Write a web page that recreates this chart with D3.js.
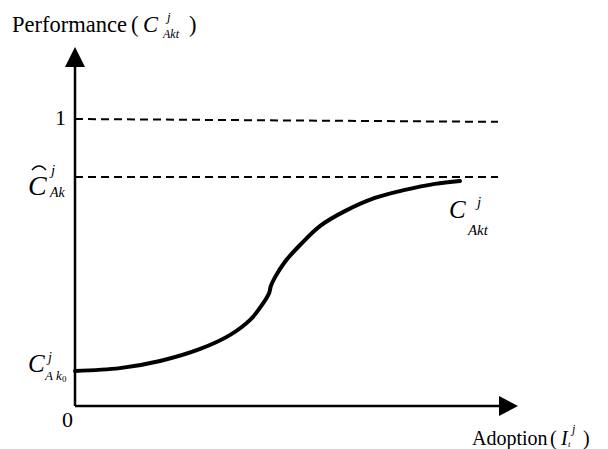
<!DOCTYPE html>
<html>
<head>
<meta charset="utf-8">
<script src="https://cdn.jsdelivr.net/npm/d3@7"></script>
<style>
  html, body { margin: 0; padding: 0; background: #fff; }
  svg { display: block; }
</style>
</head>
<body>
<div id="chart"></div>
<script>
// Adoption level (0..1) and resulting performance along the S-shaped curve
const adoption = [0, 0.106, 0.201, 0.296, 0.366, 0.414, 0.442, 0.459, 0.463, 0.473, 0.496, 0.532, 0.579, 0.638, 0.709, 0.780, 0.851, 0.910];
const performance = [0.122, 0.132, 0.157, 0.199, 0.247, 0.300, 0.352, 0.394, 0.418, 0.449, 0.502, 0.561, 0.627, 0.679, 0.725, 0.753, 0.774, 0.784];

// Reference levels: maximum (1) and the attainable ceiling Ĉ
const ceilingLevels = [[1.0, 0.99], [0.798, 0.798]];
const yTickLabels = ["1", "0"];
const yTickValues = [1, 0];

const W = 608, H = 449;
const svg = d3.select("#chart").append("svg").attr("width", W).attr("height", H);

const x = d3.scaleLinear().domain([0, 1]).range([75, 498]);
const y = d3.scaleLinear().domain([0, 1]).range([406, 119]);

const x0 = x(0), y0 = y(0);
const yTop = 67, yTip = 47;
const xEnd = 499, xTip = 518;

// Axes with arrowheads
svg.append("line").attr("x1", x0).attr("y1", y0).attr("x2", x0).attr("y2", yTop)
  .attr("stroke", "#000").attr("stroke-width", 2.5);
svg.append("line").attr("x1", x0).attr("y1", y0).attr("x2", xEnd).attr("y2", y0)
  .attr("stroke", "#000").attr("stroke-width", 2.5);
svg.append("path").attr("d", `M${x0},${yTip} L${x0 - 10},${yTop} L${x0 + 10},${yTop} Z`).attr("fill", "#000");
svg.append("path").attr("d", `M${xTip},${y0} L${xEnd},${y0 - 10} L${xEnd},${y0 + 10} Z`).attr("fill", "#000");

// Dashed reference lines
svg.selectAll("line.ref").data(ceilingLevels).enter().append("line")
  .attr("class", "ref")
  .attr("x1", x(0)).attr("x2", x(1))
  .attr("y1", d => y(d[0])).attr("y2", d => y(d[1]))
  .attr("stroke", "#000").attr("stroke-width", 2)
  .attr("stroke-dasharray", "8,5");

// Performance curve
const pts = adoption.map((a, i) => [a, performance[i]]);
svg.append("path").datum(pts)
  .attr("d", d3.line().x(d => x(d[0])).y(d => y(d[1])).curve(d3.curveCatmullRom.alpha(0.5)))
  .attr("fill", "none").attr("stroke", "#000").attr("stroke-width", 4)
  .attr("stroke-linecap", "round");

// Tick labels 1 and 0
svg.selectAll("text.tick").data(yTickValues).enter().append("text")
  .attr("class", "tick")
  .attr("x", (d, i) => i === 0 ? 55 : 62)
  .attr("y", d => d === 1 ? y(d) + 6 : y(d) + 21)
  .attr("font-size", 22)
  .text((d, i) => yTickLabels[i]);

// Axis titles
const t1 = svg.append("text").attr("x", 12).attr("y", 32).attr("font-size", 22.5);
t1.append("tspan").text("Performance");
t1.append("tspan").attr("x", 131).text("(");
t1.append("tspan").attr("x", 143).attr("font-style", "italic").text("C");
t1.append("tspan").attr("x", 167).attr("y", 21).attr("font-size", 13).attr("font-style", "italic").text("j");
t1.append("tspan").attr("x", 163).attr("y", 38).attr("font-size", 12).attr("font-style", "italic").text("Akt");
t1.append("tspan").attr("x", 189).attr("y", 32).text(")");

const t2 = svg.append("text").attr("x", 472).attr("y", 445).attr("font-size", 20);
t2.append("tspan").text("Adoption");
t2.append("tspan").attr("x", 550).text("(");
t2.append("tspan").attr("x", 561).attr("font-style", "italic").text("I");
t2.append("tspan").attr("x", 568).attr("y", 447).attr("font-size", 9).attr("font-style", "italic").text("t");
t2.append("tspan").attr("x", 572).attr("y", 433).attr("font-size", 12).attr("font-style", "italic").text("j");
t2.append("tspan").attr("x", 583).attr("y", 445).text(")");

// Ĉ label at the ceiling
const cy = y(0.798);
const ch = svg.append("text").attr("x", 28).attr("y", cy + 18).attr("font-size", 28);
ch.append("tspan").attr("font-style", "italic").text("C");
ch.append("tspan").attr("x", 51).attr("y", cy - 2).attr("font-size", 15).attr("font-style", "italic").text("j");
ch.append("tspan").attr("x", 50).attr("y", cy + 20).attr("font-size", 14).attr("font-style", "italic").text("Ak");
svg.append("path").attr("d", `M32,${cy - 7} Q39,${cy - 15} 46,${cy - 7}`)
  .attr("fill", "none").attr("stroke", "#000").attr("stroke-width", 1.6);

// Starting level label
const sy = y(performance[0]);
const c0 = svg.append("text").attr("x", 28).attr("y", sy + 1).attr("font-size", 25);
c0.append("tspan").attr("font-style", "italic").text("C");
c0.append("tspan").attr("x", 48).attr("y", sy - 9).attr("font-size", 14).attr("font-style", "italic").text("j");
c0.append("tspan").attr("x", 45).attr("y", sy + 9).attr("font-size", 13).attr("font-style", "italic").text("A k");
c0.append("tspan").attr("x", 62).attr("y", sy + 11).attr("font-size", 9).text("0");

// Curve end label
const ex = x(adoption[adoption.length - 1]), ey = y(performance[performance.length - 1]);
const ce = svg.append("text").attr("x", ex - 11).attr("y", ey + 37).attr("font-size", 25);
ce.append("tspan").attr("font-style", "italic").text("C");
ce.append("tspan").attr("x", ex + 17).attr("y", ey + 26).attr("font-size", 15).attr("font-style", "italic").text("j");
ce.append("tspan").attr("x", ex + 8).attr("y", ey + 54).attr("font-size", 15).attr("font-style", "italic").text("Akt");

// Serif face on every label and its parts
svg.selectAll("text, tspan").style("font-family", "Liberation Serif");
</script>
</body>
</html>
